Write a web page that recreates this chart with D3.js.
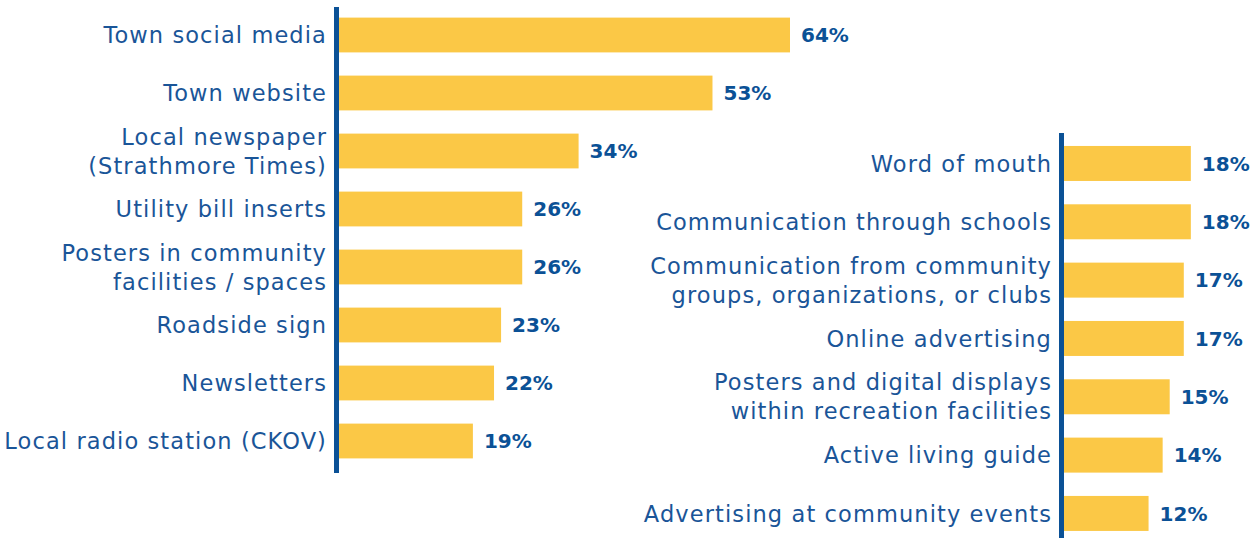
<!DOCTYPE html>
<html>
<head>
<meta charset="utf-8">
<script src="https://cdn.jsdelivr.net/npm/d3@7"></script>
<style>
  body { margin: 0; background: #fff; }
</style>
</head>
<body>
<div id="chart"></div>
<script>
// Communication channels, two panels

const leftLabels = [
    ["Town social media"],
    ["Town website"],
    ["Local newspaper", "(Strathmore Times)"],
    ["Utility bill inserts"],
    ["Posters in community", "facilities / spaces"],
    ["Roadside sign"],
    ["Newsletters"],
    ["Local radio station (CKOV)"]
];
const leftValues = [64, 53, 34, 26, 26, 23, 22, 19];

const rightLabels = [
    ["Word of mouth"],
    ["Communication through schools"],
    ["Communication from community", "groups, organizations, or clubs"],
    ["Online advertising"],
    ["Posters and digital displays", "within recreation facilities"],
    ["Active living guide"],
    ["Advertising at community events"]
];
const rightValues = [18, 18, 17, 17, 15, 14, 12];

const width = 1253,
    height = 538;

const barColor = "#fbc846",
    axisColor = "#0b5196",
    textColor = "#1a5598",
    font = "'DejaVu Sans', sans-serif";

let svg = d3.select("#chart")
    .append("svg")
    .attr("width", width)
    .attr("height", height)
    .attr("viewBox", [0, 0, width, height]);

// same px-per-percent for both panels
let x = d3.scaleLinear()
    .domain([0, 64])
    .range([0, 451]);

function panel(labels, values, x0, yRange, axisRange) {
    let data = labels.map((l, i) => ({id: i, lines: l, value: values[i]}));

    let y = d3.scaleBand()
        .domain(data.map(d => d.id))
        .range(yRange)
        .paddingInner(0.4)
        .paddingOuter(0.2);

    let g = svg.append("g");

    let bar = g.selectAll(".bar")
        .data(data)
        .join("g")
        .attr("class", "bar");

    bar.append("rect")
        .attr("fill", barColor)
        .attr("x", x0)
        .attr("y", d => y(d.id))
        .attr("width", d => x(d.value))
        .attr("height", y.bandwidth());

    bar.append("text")
        .text(d => d.value + "%")
        .attr("x", d => x0 + x(d.value) + 11)
        .attr("y", d => y(d.id) + y.bandwidth() / 2)
        .attr("dy", "0.36em")
        .style("fill", axisColor)
        .style("font-family", font)
        .style("font-weight", "bold")
        .style("font-size", "20px");

    // category labels, one or two lines
    let lineH = 29;
    bar.append("text")
        .attr("text-anchor", "end")
        .style("fill", textColor)
        .style("font-family", font)
        .style("font-size", "22.5px")
        .style("letter-spacing", "1.1px")
        .selectAll("tspan")
        .data(d => d.lines.map((t, k) => ({t, k, n: d.lines.length, id: d.id})))
        .join("tspan")
        .attr("x", x0 - 12)
        .attr("y", d => y(d.id) + y.bandwidth() / 2 + (d.k - (d.n - 1) / 2) * lineH)
        .attr("dy", "0.36em")
        .text(d => d.t);

    // vertical axis line
    g.append("line")
        .attr("x1", x0 - 2.5)
        .attr("x2", x0 - 2.5)
        .attr("y1", axisRange[0])
        .attr("y2", axisRange[1])
        .attr("stroke", axisColor)
        .attr("stroke-width", 5);
}

panel(leftLabels, leftValues, 339, [6, 470], [7, 473]);
panel(rightLabels, rightValues, 1064, [134.3, 542.6], [133, 538]);
</script>
</body>
</html>
